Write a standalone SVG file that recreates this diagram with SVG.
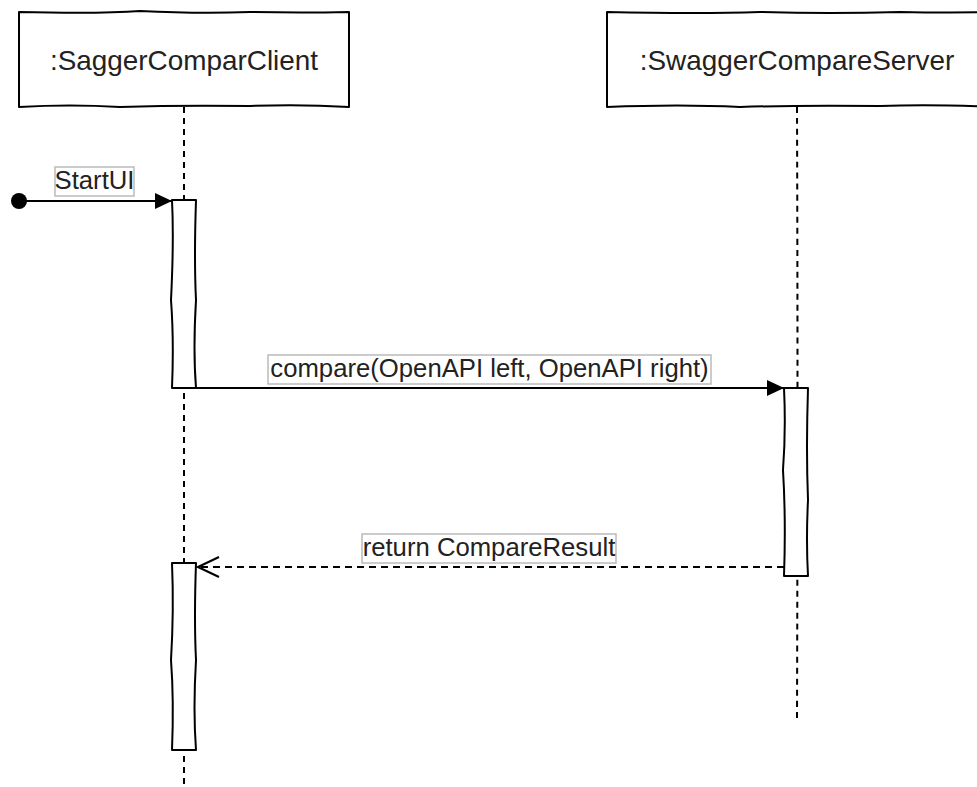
<svg xmlns="http://www.w3.org/2000/svg" width="977" height="787" viewBox="0 0 977 787">
<style>
.box{fill:#fff;stroke:#000;stroke-width:2;stroke-linejoin:round}
.life{fill:none;stroke:#000;stroke-width:2;stroke-dasharray:6 5}
.msg{fill:none;stroke:#000;stroke-width:2}
.ret{fill:none;stroke:#000;stroke-width:2;stroke-dasharray:7 5}
.title{font-family:"Liberation Sans",Arial,sans-serif;font-size:27.9px;fill:#222;text-anchor:middle}
.lbl{font-family:"Liberation Sans",Arial,sans-serif;font-size:25.7px;fill:#222;text-anchor:middle}
.lblbox{fill:#fff;stroke:#bbb;stroke-width:1.5}
</style>
<defs>
<marker id="filled" markerWidth="18" markerHeight="16" refX="17" refY="8" orient="auto" markerUnits="userSpaceOnUse">
<path d="M0,0 L17,8 L0,16 Z" fill="#000"/>
</marker>
<marker id="open" markerWidth="24" markerHeight="24" refX="22" refY="12" orient="auto" markerUnits="userSpaceOnUse">
<path d="M1,2 L22,12 L1,22" fill="none" stroke="#000" stroke-width="2"/>
</marker>
</defs>
<g id="lifelines">
<path class="life" d="M184,107 L184,787"/>
<path class="life" d="M797,107 Q798,400 797,718"/>
</g>
<g id="client">
<path class="box" d="M19,12 Q100,14 140,11 Q200,14 250,12 Q300,13 349,12 L349,107 Q300,104 250,106 Q180,105 120,107 Q70,104 19,107 Z"/>
<text class="title" x="184" y="70">:SaggerComparClient</text>
</g>
<g id="server">
<path class="box" d="M607,12 Q700,14 760,12 Q830,14 900,12 Q950,13 1000,12 L1000,107 Q930,104 880,106 Q800,105 740,107 Q680,104 607,107 Z"/>
<text class="title" x="797" y="70">:SwaggerCompareServer</text>
</g>
<g id="client-act-1">
<path class="box" d="M172,200 L196,200 Q194,260 196,300 Q193,350 196,388 L172,388 Q174,340 171,300 Q174,240 172,200 Z"/>
</g>
<g id="server-act">
<path class="box" d="M784,388 L808,388 Q806,450 808,500 Q806,540 808,576 L784,576 Q786,520 783,470 Q786,430 784,388 Z"/>
</g>
<g id="client-act-2">
<path class="box" d="M172,563 L196,563 Q194,620 196,660 Q193,710 196,750 L172,750 Q174,700 171,660 Q174,610 172,563 Z"/>
</g>
<g id="connectors">
<circle cx="19" cy="201" r="8" fill="#000"/>
<path class="msg" d="M19,201 L172,201" marker-end="url(#filled)"/>
<path class="msg" d="M196,388 L784,388" marker-end="url(#filled)"/>
<path class="ret" d="M784,567 L198,567" marker-end="url(#open)"/>
</g>
<g id="labels">
<rect class="lblbox" x="55" y="167" width="79" height="29"/>
<text class="lbl" x="94.5" y="189">StartUI</text>
<rect class="lblbox" x="268" y="355" width="443" height="29"/>
<text class="lbl" x="489.5" y="377">compare(OpenAPI left, OpenAPI right)</text>
<rect class="lblbox" x="362" y="534" width="254" height="29"/>
<text class="lbl" x="489" y="556">return CompareResult</text>
</g>
</svg>
